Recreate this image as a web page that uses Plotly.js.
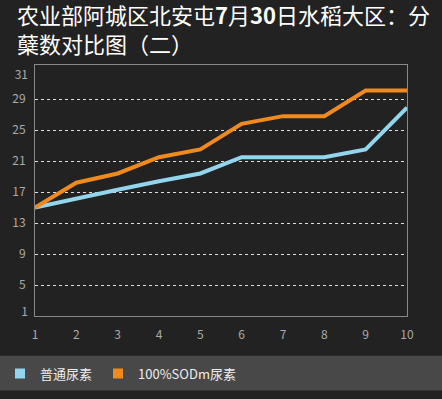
<!DOCTYPE html>
<html>
<head>
<meta charset="utf-8">
<script src="https://cdn.plot.ly/plotly-3.0.1.min.js"></script>
<style>html,body{margin:0;padding:0;background:#222222;}#chart{width:442px;height:399px;}</style>
</head>
<body>
<div id="chart"></div>
<script>
const categories = [1, 2, 3, 4, 5, 6, 7, 8, 9, 10];
const seriesNames = ['普通尿素', '100%SODm尿素'];
const normalUrea = [15, 16.2, 17.3, 18.4, 19.4, 21.5, 21.5, 21.5, 22.5, 27.9];
const sodmUrea = [15, 18.2, 19.4, 21.5, 22.5, 25.8, 26.8, 26.8, 30.1, 30.1];
const yGridTicks = [5, 9, 13, 17, 21, 25, 29];
const yEdgeTickVals = [1.6, 32.1];
const yEdgeTickText = ['1', '31'];
const colors = ['#93d5ec', '#f08a1e'];

const font = 'Noto Sans CJK SC, Noto Sans, sans-serif';
const range = [1, 33.4];

const traces = [
  {x: categories, y: normalUrea, mode: 'lines', line: {color: colors[0], width: 4}, showlegend: false, legendgroup: 'a'},
  {x: categories, y: sodmUrea, mode: 'lines', line: {color: colors[1], width: 4}, showlegend: false, legendgroup: 'b'},
  {x: [null], y: [null], mode: 'markers', name: seriesNames[0], legendgroup: 'a', legend: 'legend', marker: {symbol: 'square', size: 10, color: colors[0]}},
  {x: [null], y: [null], mode: 'markers', name: seriesNames[1], legendgroup: 'b', legend: 'legend2', marker: {symbol: 'square', size: 10, color: colors[1]}},
  {x: [1], y: [1], yaxis: 'y2', mode: 'markers', marker: {opacity: 0}, showlegend: false, hoverinfo: 'skip'}
];

const legendBase = {
  orientation: 'h', xref: 'container', yref: 'container',
  xanchor: 'left', y: 1 - 373.5 / 399, yanchor: 'middle',
  bgcolor: 'rgba(0,0,0,0)', font: {size: 13, color: '#eeeeee', family: font}
};

const layout = {
  width: 442, height: 399,
  paper_bgcolor: '#222222', plot_bgcolor: '#222222',
  margin: {l: 35.3, r: 35.3, t: 65.3, b: 82.7, pad: 0},
  font: {family: font, color: '#aaaaaa', size: 12},
  title: {
    text: '农业部阿城区北安屯<b>7</b>月<b>30</b>日水稻大区：分<br>蘖数对比图（二）',
    font: {family: font, size: 22, color: '#ffffff'},
    x: 17 / 442, xanchor: 'left', xref: 'container',
    y: 1 - 24 / 399, yanchor: 'top', yref: 'container'
  },
  xaxis: {
    range: [1, 10], tickvals: categories, ticks: '', showgrid: false, zeroline: false,
    showline: true, mirror: true, linecolor: '#888888', linewidth: 1,
    tickfont: {size: 12, color: '#aaaaaa'}, ticklabelstandoff: 8
  },
  yaxis: {
    range: range, tickvals: yGridTicks, ticks: '', showgrid: true, gridcolor: '#dddddd',
    griddash: 'dot', gridwidth: 1, zeroline: false,
    showline: true, mirror: true, linecolor: '#888888', linewidth: 1,
    tickfont: {size: 12, color: '#aaaaaa'}, ticklabelstandoff: 6
  },
  yaxis2: {
    range: range, overlaying: 'y', side: 'left', tickvals: yEdgeTickVals, ticktext: yEdgeTickText,
    ticks: '', showgrid: false, zeroline: false, showline: false,
    tickfont: {size: 12, color: '#aaaaaa'}, ticklabelstandoff: 6
  },
  shapes: [{
    type: 'rect', xref: 'paper', yref: 'paper', layer: 'below',
    x0: -35.3 / 371.4, x1: 1 + 35.3 / 371.4,
    y0: -(390.7 - 316.3) / 251, y1: -(356 - 316.3) / 251,
    fillcolor: '#484848', line: {width: 0}
  }],
  legend: Object.assign({}, legendBase, {x: -2 / 442}),
  legend2: Object.assign({}, legendBase, {x: 98 / 442}),
  showlegend: true
};

Plotly.newPlot('chart', traces, layout, {displayModeBar: false, staticPlot: true});
</script>
</body>
</html>
